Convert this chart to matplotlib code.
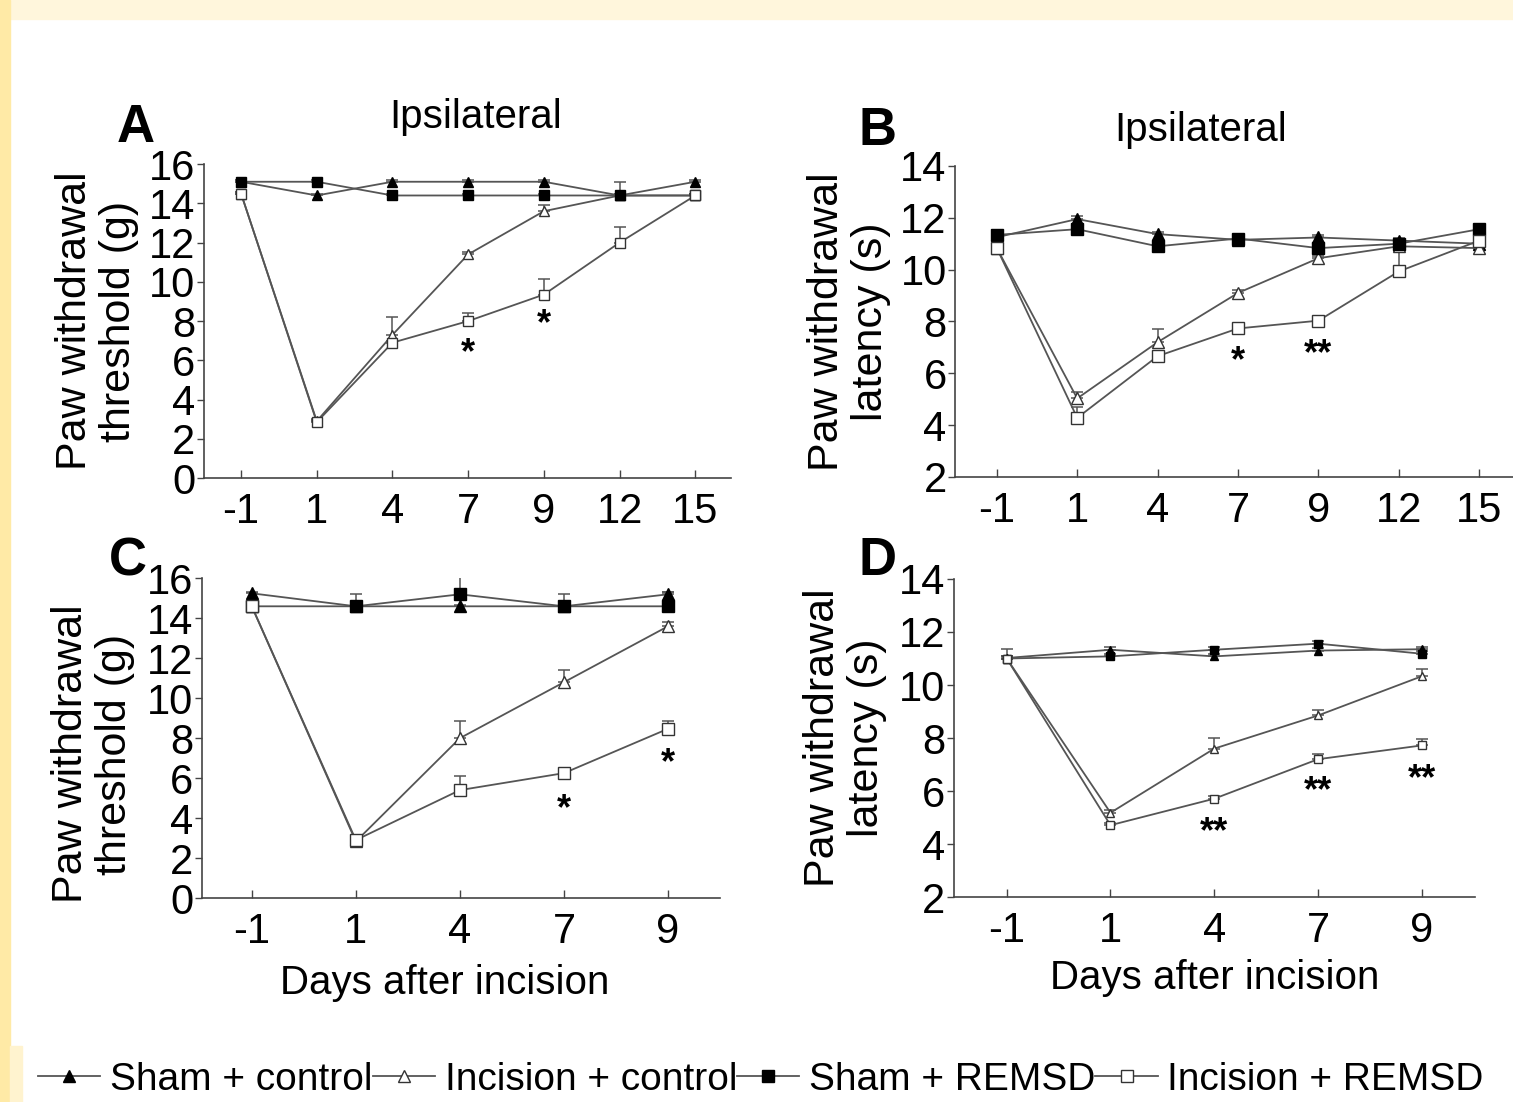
import matplotlib.pyplot as plt
import numpy as np
from matplotlib.lines import Line2D
from matplotlib.patches import Rectangle

plt.rcParams["font.family"] = ["Liberation Sans", "DejaVu Sans"]

W, H = 1513, 1102

labels = ["Sham + control", "Incision + control", "Sham + REMSD", "Incision + REMSD"]

days_ab = ["-1", "1", "4", "7", "9", "12", "15"]
days_cd = ["-1", "1", "4", "7", "9"]

# panel A: mechanical threshold, 15 days
a_sham_ctrl = [15.1, 14.4, 15.1, 15.1, 15.1, 14.4, 15.1]
a_inc_ctrl = [14.5, 2.9, 7.3, 11.4, 13.6, 14.4, 14.4]
a_sham_remsd = [15.1, 15.1, 14.4, 14.4, 14.4, 14.4, 14.4]
a_inc_remsd = [14.5, 2.85, 6.9, 8.0, 9.35, 12.0, 14.4]
a_sham_ctrl_err = [0.1, 0.1, 0.1, 0.1, 0.1, 0.1, 0.1]
a_inc_ctrl_err = [0.1, 0.1, 0.9, 0.1, 0.3, 0.1, 0.1]
a_sham_remsd_err = [0.1, 0.1, 0.1, 0.1, 0.1, 0.7, 0.1]
a_inc_remsd_err = [0.1, 0.1, 0.1, 0.4, 0.8, 0.8, 0.1]
a_stars = [("*", 3, 6.9), ("*", 4, 8.4)]

# panel B: thermal latency, 15 days
b_sham_ctrl = [11.25, 11.95, 11.37, 11.15, 11.24, 11.12, 11.0]
b_inc_ctrl = [10.83, 5.03, 7.2, 9.1, 10.44, 10.9, 10.83]
b_sham_remsd = [11.34, 11.56, 10.9, 11.2, 10.83, 11.0, 11.56]
b_inc_remsd = [10.83, 4.28, 6.66, 7.73, 8.03, 9.93, 11.12]
b_sham_ctrl_err = [0.1, 0.1, 0.1, 0.1, 0.1, 0.1, 0.1]
b_inc_ctrl_err = [0.1, 0.25, 0.5, 0.1, 0.1, 0.1, 0.1]
b_sham_remsd_err = [0.2, 0.1, 0.1, 0.1, 0.1, 0.1, 0.1]
b_inc_remsd_err = [0.1, 0.4, 0.1, 0.1, 0.1, 0.8, 0.1]
b_stars = [("*", 3, 6.9), ("**", 4, 7.15)]

# panel C: mechanical threshold, 9 days
c_sham_ctrl = [15.25, 14.6, 14.6, 14.6, 15.2]
c_inc_ctrl = [14.6, 2.83, 8.0, 10.8, 13.6]
c_sham_remsd = [14.6, 14.6, 15.2, 14.6, 14.6]
c_inc_remsd = [14.6, 2.9, 5.4, 6.25, 8.47]
c_sham_ctrl_err = [0.05, 0.05, 0.05, 0.05, 0.1]
c_inc_ctrl_err = [0.1, 0.1, 0.87, 0.6, 0.2]
c_sham_remsd_err = [0.1, 0.6, 0.85, 0.6, 0.7]
c_inc_remsd_err = [0.1, 0.1, 0.7, 0.1, 0.4]
c_stars = [("*", 3, 5.0), ("*", 4, 7.3)]

# panel D: thermal latency, 9 days
d_sham_ctrl = [11.02, 11.33, 11.08, 11.3, 11.35]
d_inc_ctrl = [11.0, 5.18, 7.6, 8.85, 10.33]
d_sham_remsd = [11.0, 11.08, 11.33, 11.56, 11.18]
d_inc_remsd = [11.0, 4.71, 5.71, 7.2, 7.72]
d_sham_ctrl_err = [0.35, 0.1, 0.1, 0.1, 0.1]
d_inc_ctrl_err = [0.1, 0.1, 0.4, 0.2, 0.27]
d_sham_remsd_err = [0.1, 0.1, 0.1, 0.1, 0.1]
d_inc_remsd_err = [0.1, 0.1, 0.1, 0.2, 0.25]
d_stars = [("**", 2, 4.85), ("**", 3, 6.4), ("**", 4, 6.85)]

LINE = "#555555"
styles = [
    dict(marker="^", mfc="black", mec="black"),
    dict(marker="^", mfc="white", mec="#333333"),
    dict(marker="s", mfc="black", mec="black"),
    dict(marker="s", mfc="white", mec="#333333"),
]


def draw_panel(ax, days, series, errs, stars, ylim, yticks, ms, xlim, ylabel):
    x = np.arange(len(days))
    for vals, err, st in zip(series, errs, styles):
        ax.errorbar(x, vals, yerr=[np.zeros(len(err)), err], fmt="none",
                    ecolor=LINE, elinewidth=1.1, capsize=4, capthick=1.1, zorder=2)
    for vals, st in zip(series, styles):
        ax.plot(x, vals, color=LINE, lw=1.3, ms=ms, mew=1.0, zorder=3, **st)
    for s, i, yv in stars:
        ax.annotate(s, (i, yv), xytext=(0, -15), textcoords="offset points",
                    ha="center", va="baseline", fontsize=26, fontweight="bold")
    ax.set_xlim(*xlim)
    ax.set_ylim(*ylim)
    ax.set_xticks(x)
    ax.set_xticklabels(days)
    ax.set_yticks(yticks)
    for side in ["top", "right"]:
        ax.spines[side].set_visible(False)
    for side in ["left", "bottom"]:
        ax.spines[side].set_color("#444444")
        ax.spines[side].set_linewidth(1.2)
    ax.tick_params(axis="x", direction="in", length=6, width=1, color="#444444",
                   labelsize=30, pad=10)
    ax.tick_params(axis="y", direction="out", length=5, width=1, color="#444444",
                   labelsize=30, pad=1)
    ax.set_ylabel(ylabel, fontsize=31, va="center", linespacing=1.15)


fig = plt.figure(figsize=(W / 100, H / 100), dpi=100)

# yellow page border
fig.patches.append(Rectangle((0, 1 - 19 / H), 1, 19 / H, transform=fig.transFigure,
                             color="#fff6dc", zorder=0))
fig.patches.append(Rectangle((0, 0), 10 / W, 1, transform=fig.transFigure,
                             color="#ffeaa6", zorder=0))
fig.patches.append(Rectangle((10 / W, 0), 12 / W, 56 / H, transform=fig.transFigure,
                             color="#fff3cf", zorder=0))

ax_a = fig.add_axes([0.1348, 0.5662, 0.3483, 0.2849])
ax_b = fig.add_axes([0.6312, 0.5672, 0.3688, 0.2822])
ax_c = fig.add_axes([0.1334, 0.1851, 0.3425, 0.2901])
ax_d = fig.add_axes([0.6304, 0.1860, 0.3443, 0.2886])

thr_label = "Paw withdrawal\nthreshold (g)"
lat_label = "Paw withdrawal\nlatency (s)"

draw_panel(ax_a, days_ab, [a_sham_ctrl, a_inc_ctrl, a_sham_remsd, a_inc_remsd],
           [a_sham_ctrl_err, a_inc_ctrl_err, a_sham_remsd_err, a_inc_remsd_err],
           a_stars, (0, 16), range(0, 17, 2), 7.5, (-0.49, 6.47), thr_label)
draw_panel(ax_b, days_ab, [b_sham_ctrl, b_inc_ctrl, b_sham_remsd, b_inc_remsd],
           [b_sham_ctrl_err, b_inc_ctrl_err, b_sham_remsd_err, b_inc_remsd_err],
           b_stars, (2, 14), range(2, 15, 2), 8, (-0.52, 6.42), lat_label)
draw_panel(ax_c, days_cd, [c_sham_ctrl, c_inc_ctrl, c_sham_remsd, c_inc_remsd],
           [c_sham_ctrl_err, c_inc_ctrl_err, c_sham_remsd_err, c_inc_remsd_err],
           c_stars, (0, 16), range(0, 17, 2), 8.5, (-0.48, 4.5), thr_label)
draw_panel(ax_d, days_cd, [d_sham_ctrl, d_inc_ctrl, d_sham_remsd, d_inc_remsd],
           [d_sham_ctrl_err, d_inc_ctrl_err, d_sham_remsd_err, d_inc_remsd_err],
           d_stars, (2, 14), range(2, 15, 2), 6, (-0.51, 4.51), lat_label)

ax_a.yaxis.set_label_coords(-0.203, 0.5)
ax_b.yaxis.set_label_coords(-0.19, 0.5)
ax_c.yaxis.set_label_coords(-0.21, 0.45)
ax_d.yaxis.set_label_coords(-0.209, 0.5)

ax_a.text(0.515, 1.15, "Ipsilateral", transform=ax_a.transAxes, ha="center",
          va="center", fontsize=29)
ax_b.text(0.44, 1.115, "Ipsilateral", transform=ax_b.transAxes, ha="center",
          va="center", fontsize=29)

for letter, px, py in [("A", 136, 128), ("B", 878, 131), ("C", 128, 562), ("D", 878, 561)]:
    fig.text(px / W, 1 - py / H, letter, ha="center", va="center",
             fontsize=38, fontweight="bold")

fig.text(445 / W, 1 - 983 / H, "Days after incision", ha="center", va="center", fontsize=29)
fig.text(1215 / W, 1 - 978 / H, "Days after incision", ha="center", va="center", fontsize=29)

handles = [Line2D([], [], color=LINE, lw=1.3, ms=8, mew=1.0, **st) for st in styles]
fig.legend(handles, labels, loc="center", bbox_to_anchor=(0.503, 0.02), ncol=4,
           frameon=False, fontsize=28, handlelength=1.6, handletextpad=0.25,
           columnspacing=0.0, borderaxespad=0, borderpad=0)

fig.savefig("out.png", dpi=100)
